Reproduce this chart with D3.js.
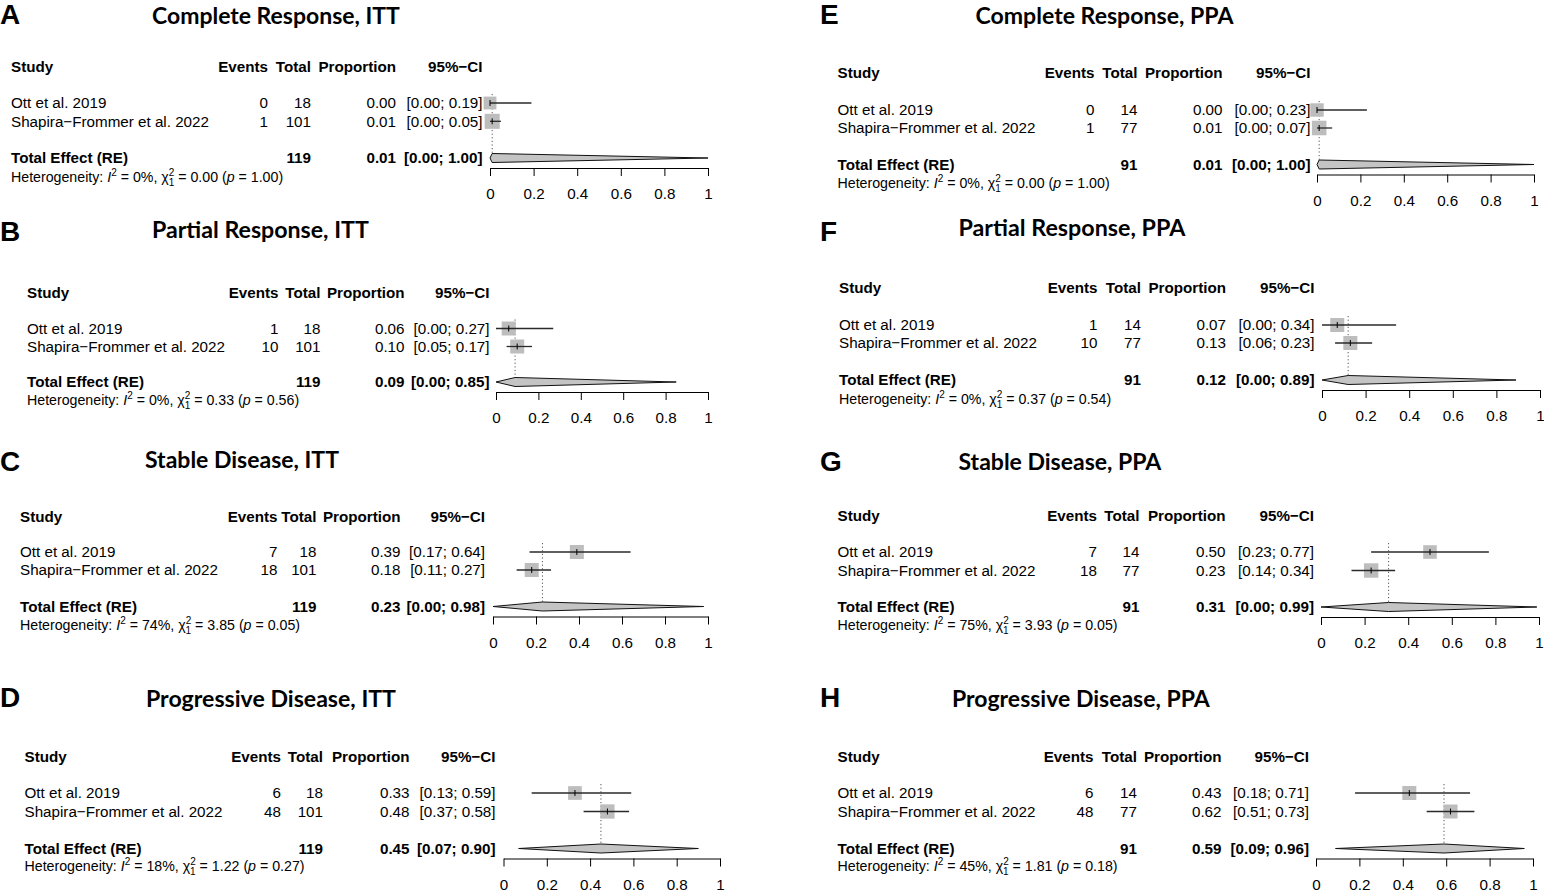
<!DOCTYPE html>
<html><head><meta charset="utf-8">
<script src="https://cdn.jsdelivr.net/npm/d3@7"></script>
<style>
body{margin:0;background:#fff}
svg{display:block}
text{font-family:"Liberation Sans",Arial,Helvetica,sans-serif;fill:#000}
</style>
</head><body>
<svg id="chart" width="1544" height="893"></svg>
<script>
// ---------------- DATA ----------------
const panelLetters = ["A","B","C","D","E","F","G","H"];
const panelTitles = [
  "Complete Response, ITT","Partial Response, ITT","Stable Disease, ITT","Progressive Disease, ITT",
  "Complete Response, PPA","Partial Response, PPA","Stable Disease, PPA","Progressive Disease, PPA"
];
const headers = ["Study","Events","Total","Proportion","95%\u2212CI"];
const studyNames = ["Ott et al. 2019","Shapira\u2212Frommer et al. 2022"];
const events = [[0,1],[1,10],[7,18],[6,48],[0,1],[1,10],[7,18],[6,48]];
const totals = [[18,101],[18,101],[18,101],[18,101],[14,77],[14,77],[14,77],[14,77]];
const proportions = [[0.00,0.01],[0.06,0.10],[0.39,0.18],[0.33,0.48],[0.00,0.01],[0.07,0.13],[0.50,0.23],[0.43,0.62]];
const ciLower = [[0.00,0.00],[0.00,0.05],[0.17,0.11],[0.13,0.37],[0.00,0.00],[0.00,0.06],[0.23,0.14],[0.18,0.51]];
const ciUpper = [[0.19,0.05],[0.27,0.17],[0.64,0.27],[0.59,0.58],[0.23,0.07],[0.34,0.23],[0.77,0.34],[0.71,0.73]];
const studyWeights = [[42,58],[50,50],[50,50],[48,52],[46,54],[50,50],[47,53],[50,50]];
const pooledLabel = "Total Effect (RE)";
const pooledTotal = [119,119,119,119,91,91,91,91];
const pooledEst = [0.01,0.09,0.23,0.45,0.01,0.12,0.31,0.59];
const pooledLo = [0.00,0.00,0.00,0.07,0.00,0.00,0.00,0.09];
const pooledHi = [1.00,0.85,0.98,0.90,1.00,0.89,0.99,0.96];
const hetI2 = [0,0,74,18,0,0,75,45];
const hetChi2 = [0.00,0.33,3.85,1.22,0.00,0.37,3.93,1.81];
const hetP = [1.00,0.56,0.05,0.27,1.00,0.54,0.05,0.18];
const axisTicks = [0,0.2,0.4,0.6,0.8,1];

// ---------------- LAYOUT ----------------
const layout = [
 {lx:0,   ly:24,  tx:152,   ty:24,  tw:248, sx:11,    ev:268,    to:311,    pr:396,    ci:482.5,  x0:490,  x1:708,  hy:67,    r1:103, r2:121.3, tr:158,   het:177},
 {lx:0,   ly:241, tx:152,   ty:238, tw:217, sx:27,    ev:278.5,  to:320.5,  pr:404.5,  ci:489.5,  x0:496,  x1:708,  hy:292.5, r1:328.5, r2:346.5, tr:382, het:400},
 {lx:0,   ly:471, tx:145,   ty:468, tw:194, sx:20,    ev:277.5,  to:316.5,  pr:400.5,  ci:485,    x0:493,  x1:708,  hy:516.5, r1:552, r2:570,   tr:606.5, het:624.5},
 {lx:0,   ly:707, tx:146,   ty:707, tw:250, sx:24.5,  ev:281,    to:323,    pr:409.5,  ci:495.5,  x0:503.5,x1:720,  hy:756.5, r1:793, r2:811.5, tr:848.5, het:865.5},
 {lx:820, ly:24,  tx:975.5, ty:24,  tw:258, sx:837.5, ev:1094.5, to:1137.5, pr:1222.5, ci:1310.5, x0:1317, x1:1534, hy:73,    r1:110, r2:128,   tr:164.5, het:182.5},
 {lx:820, ly:241, tx:958.5, ty:236, tw:227, sx:839,   ev:1097.5, to:1141,   pr:1226,   ci:1314.5, x0:1322, x1:1540, hy:288,   r1:325, r2:343,   tr:380,   het:398.5},
 {lx:820, ly:471, tx:958.5, ty:470, tw:203, sx:837.5, ev:1097,   to:1139.5, pr:1225.5, ci:1314,   x0:1321, x1:1539, hy:515.5, r1:552, r2:570.5, tr:607,   het:625},
 {lx:820, ly:707, tx:952,   ty:707, tw:258, sx:837.5, ev:1093.5, to:1137,   pr:1221.5, ci:1309,   x0:1316, x1:1533, hy:756.5, r1:793, r2:811.5, tr:848.5, het:865.5}
];

const FS = 15.2, HFS = 14.2;
const svg = d3.select("#chart");
svg.append("rect").attr("width",1544).attr("height",893).attr("fill","#fff");
const f2 = d3.format(".2f");

function txt(g, x, cy, s, anchor, bold, size) {
  return g.append("text").attr("x", x).attr("y", cy).attr("dy","0.36em")
    .attr("text-anchor", anchor).attr("font-size", size || FS)
    .attr("font-weight", bold ? "bold" : "normal").text(s);
}

layout.forEach((L, i) => {
  const g = svg.append("g");
  const x = d3.scaleLinear().domain([0,1]).range([L.x0, L.x1]);

  g.append("text").attr("x", L.lx).attr("y", L.ly).attr("font-size", 28)
    .attr("font-weight","bold").text(panelLetters[i]);

  const t = g.append("text").attr("x", L.tx).attr("y", L.ty)
    .style("font-family","Lato, 'Open Sans', sans-serif").attr("font-weight","bold")
    .attr("font-size", 22).text(panelTitles[i]);
  const w = t.node().getComputedTextLength();
  if (w > 0) t.attr("font-size", 22 * L.tw / w);

  // header
  txt(g, L.sx, L.hy, headers[0], "start", true);
  txt(g, L.ev, L.hy, headers[1], "end", true);
  txt(g, L.to, L.hy, headers[2], "end", true);
  txt(g, L.pr, L.hy, headers[3], "end", true);
  txt(g, L.ci, L.hy, headers[4], "end", true);

  const rowsY = [L.r1, L.r2];
  // dotted pooled line
  g.append("line").attr("x1", x(pooledEst[i])).attr("x2", x(pooledEst[i]))
    .attr("y1", L.r1 - 9).attr("y2", L.tr - 4.5)
    .attr("stroke","#555").attr("stroke-width",1).attr("stroke-dasharray","1.2,2.4");

  studyNames.forEach((nm, j) => {
    const cy = rowsY[j];
    txt(g, L.sx, cy, nm, "start");
    txt(g, L.ev, cy, events[i][j], "end");
    txt(g, L.to, cy, totals[i][j], "end");
    txt(g, L.pr, cy, f2(proportions[i][j]), "end");
    txt(g, L.ci, cy, `[${f2(ciLower[i][j])}; ${f2(ciUpper[i][j])}]`, "end");
    const s = 1.98 * Math.sqrt(studyWeights[i][j]);
    const px = x(proportions[i][j]);
    g.append("rect").attr("x", px - s/2).attr("y", cy - s/2).attr("width", s).attr("height", s)
      .attr("fill","#bdbdbd");
    g.append("line").attr("x1", x(ciLower[i][j])).attr("x2", x(ciUpper[i][j]))
      .attr("y1", cy).attr("y2", cy).attr("stroke","#2a2a2a").attr("stroke-width",1.3);
    g.append("line").attr("x1", px).attr("x2", px).attr("y1", cy - 3).attr("y2", cy + 3)
      .attr("stroke","#000").attr("stroke-width",1);
  });

  // pooled row
  txt(g, L.sx, L.tr, pooledLabel, "start", true);
  txt(g, L.to, L.tr, pooledTotal[i], "end", true);
  txt(g, L.pr, L.tr, f2(pooledEst[i]), "end", true);
  txt(g, L.ci, L.tr, `[${f2(pooledLo[i])}; ${f2(pooledHi[i])}]`, "end", true);
  const h = 4.5;
  g.append("path")
    .attr("d", `M${x(pooledLo[i])},${L.tr} L${x(pooledEst[i])},${L.tr - h} L${x(pooledHi[i])},${L.tr} L${x(pooledEst[i])},${L.tr + h} Z`)
    .attr("fill","#c4c4c4").attr("stroke","#111").attr("stroke-width",1);

  // heterogeneity
  const ht = g.append("text").attr("x", L.sx).attr("y", L.het).attr("dy","0.36em").attr("font-size", HFS);
  ht.append("tspan").text("Heterogeneity: ");
  ht.append("tspan").attr("font-style","italic").text("I");
  ht.append("tspan").attr("font-size", 10).attr("dy", -6).text("2");
  ht.append("tspan").attr("dy", 6).text(` = ${hetI2[i]}%, \u03c7`);
  ht.append("tspan").attr("font-size", 10).attr("dy", -6).text("2");
  ht.append("tspan").attr("font-size", 10).attr("dx", -5.6).attr("dy", 10).text("1");
  ht.append("tspan").attr("dy", -4).text(` = ${f2(hetChi2[i])} (`);
  ht.append("tspan").attr("font-style","italic").text("p");
  ht.append("tspan").text(` = ${f2(hetP[i])})`);

  // axis
  const ax = g.append("g").attr("transform", `translate(0,${L.tr + 10})`)
    .call(d3.axisBottom(x).tickValues(axisTicks).tickSize(8).tickSizeOuter(0)
      .tickPadding(12.5).tickFormat(d3.format("~g")));
  ax.attr("font-size", FS).attr("font-family", "'Liberation Sans', Arial, sans-serif");
  ax.selectAll("path,line").attr("stroke","#000").attr("stroke-width",1);
  ax.selectAll("text").attr("fill","#000");
});
</script>
</body></html>
